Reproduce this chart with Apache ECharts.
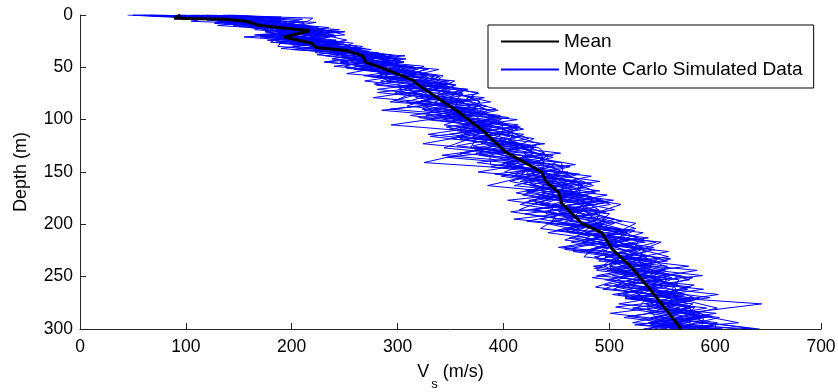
<!DOCTYPE html>
<html>
<head>
<meta charset="utf-8">
<title>Vs profile</title>
<script src="https://cdn.jsdelivr.net/npm/echarts@6/dist/echarts.min.js"></script>
<style>
  html, body { margin: 0; padding: 0; background: #fff; }
  #chart { width: 838px; height: 392px; }
</style>
</head>
<body>
<div id="chart"></div>
<script>
// Axis ticks
const vsTicks = [0, 100, 200, 300, 400, 500, 600, 700];
const depthTicks = [0, 50, 100, 150, 200, 250, 300];

// Mean shear-wave velocity profile
const meanDepth = [0, 3, 4, 6, 10, 15, 21, 27, 31, 34, 39, 45, 52, 62, 67, 78, 93, 110, 131, 138, 150, 160, 169, 180, 199, 208, 224, 241, 269, 300];
const meanVs = [95, 89, 138, 157, 170, 217, 193, 219, 223, 252, 267, 270, 289, 314, 320, 336, 358, 380, 402, 415, 436, 441, 452, 455, 474, 493, 503, 521, 544, 568];

// Simulated profiles, layer depths (three layerings)
const depthA = [0, 3, 6, 10, 14, 19, 24, 30, 36, 42, 49, 56, 63, 71, 79, 87, 96, 105, 114, 123, 132, 141, 150, 159, 168, 177, 186, 195, 204, 213, 222, 231, 240, 249, 258, 267, 276, 285, 294, 300];
const depthB = [0, 2, 5, 8, 12, 16, 21, 27, 33, 39, 45, 52, 59, 67, 75, 83, 91, 100, 109, 118, 127, 136, 145, 154, 163, 172, 181, 190, 199, 208, 217, 226, 235, 244, 253, 262, 271, 280, 289, 300];
const depthC = [0, 4, 7, 11, 16, 20, 26, 32, 38, 45, 51, 58, 66, 74, 82, 90, 98, 107, 116, 125, 134, 143, 152, 161, 170, 179, 188, 197, 206, 215, 224, 233, 242, 251, 260, 270, 279, 288, 296, 300];

// Simulated Vs values on layering A
const vsA1 = [60,150,145,200,185,240,177,247,242,303,240,317,289,366,327,379,312,389,364,439,374,430,376,471,436,504,425,490,460,537,457,536,510,588,505,563,509,601,542,597];
const vsA2 = [100,90,185,160,230,165,212,262,237,278,250,292,349,281,352,369,337,414,374,324,419,450,426,491,421,459,505,450,435,507,532,496,575,503,550,508,579,561,522,637];
const vsA3 = [50,130,195,190,175,220,182,237,222,298,290,252,334,331,277,374,372,344,419,399,364,325,461,416,491,404,470,505,480,467,522,556,485,538,515,573,534,576,622,557];
const vsA4 = [140,190,175,145,220,190,242,202,282,253,325,307,284,351,332,309,392,389,329,414,439,400,441,406,461,494,430,475,510,512,452,516,540,488,580,548,574,501,577,572];
const vsA5 = [70,120,105,215,230,250,192,187,267,308,260,327,319,301,382,339,327,399,399,379,454,375,451,446,426,474,490,410,500,477,542,486,515,558,520,603,544,566,537,607];
const vsA6 = [120,220,215,180,165,230,252,217,227,283,305,282,354,336,317,384,357,294,404,434,394,425,401,471,471,439,415,495,525,462,507,531,500,568,545,513,644,571,592,547];
const vsA7 = [115,175,130,185,245,170,227,227,272,238,315,287,294,366,347,324,397,364,409,404,359,455,456,421,446,484,475,435,490,527,487,476,555,543,495,568,539,586,572,542];
const vsA8 = [45,105,165,130,195,215,197,267,252,293,265,317,269,336,372,354,347,404,349,414,429,405,431,461,486,424,465,490,460,492,527,521,495,518,565,503,564,536,602,587];

// Simulated Vs values on layering B
const vsB1 = [65,150,140,202,165,225,230,188,265,257,306,264,320,280,362,353,335,413,349,394,424,347,448,448,410,498,451,440,505,477,534,466,535,533,501,589,525,567,514,602];
const vsB2 = [105,170,190,147,220,175,205,243,200,287,266,319,275,345,322,293,395,353,399,424,374,427,388,463,485,433,486,420,485,517,464,521,555,498,551,529,580,522,604,557];
const vsB3 = [55,100,175,167,160,190,175,223,275,232,281,329,295,340,377,318,365,328,409,369,344,437,438,398,460,458,511,485,440,482,544,511,490,583,526,504,565,602,564,537];
const vsB4 = [135,190,165,192,235,205,235,203,255,297,231,304,340,315,297,368,385,373,359,429,409,402,463,423,385,478,446,500,490,442,509,536,500,488,566,559,520,577,544,642];
const vsB5 = [90,135,130,137,200,240,155,238,230,282,296,259,325,355,312,358,285,388,414,379,429,417,403,483,440,418,476,480,455,532,504,476,540,538,521,494,585,547,589,587];
const vsB6 = [150,145,205,212,185,230,210,258,240,272,256,339,310,300,357,378,370,343,389,349,434,442,433,408,465,443,416,475,525,507,474,556,510,543,576,519,535,527,579,552];
const vsB7 = [120,125,120,182,225,195,170,248,260,247,291,294,280,355,337,308,375,398,369,359,414,447,408,453,425,478,501,450,445,517,509,481,545,508,546,574,515,592,539,577];
const vsB8 = [50,160,165,127,195,250,200,198,210,307,246,279,335,310,352,388,325,378,419,374,369,407,458,413,475,463,436,500,490,462,549,526,505,553,496,544,570,542,589,537];

// Simulated Vs values on layering C
const vsC1 = [75,170,128,205,190,242,210,265,224,291,302,283,348,281,362,343,405,346,396,421,387,388,467,433,487,430,477,512,459,508,458,538,556,514,487,565,556,598,539,592];
const vsC2 = [125,120,208,165,215,177,250,225,279,246,327,313,278,356,347,323,385,411,331,411,437,433,417,478,437,485,407,467,514,478,543,503,501,579,547,520,581,518,579,622];
const vsC3 = [50,145,168,150,250,172,240,240,294,286,252,338,333,316,297,383,355,396,416,371,417,468,392,463,422,480,472,422,509,533,493,518,486,554,552,580,506,568,559,532];
const vsC4 = [145,185,143,215,185,227,185,260,274,231,307,288,343,361,322,368,320,386,371,431,377,438,462,418,462,500,442,497,484,458,533,528,531,509,577,530,576,548,599,577];
const vsC5 = [95,210,193,190,175,207,230,190,269,301,267,328,313,376,362,293,390,361,406,356,447,403,442,458,412,465,492,487,449,518,483,558,516,559,507,555,571,593,524,572];
const vsC6 = [60,130,223,200,225,192,180,250,289,261,292,343,333,301,377,373,340,416,381,411,342,448,427,483,457,435,497,447,524,503,498,488,551,534,517,595,536,543,609,637];
const vsC7 = [110,135,178,215,225,187,245,215,284,306,262,308,348,311,367,393,350,381,356,426,427,398,472,438,437,495,452,497,454,528,523,493,536,484,562,565,546,588,549,607];
const vsC8 = [65,155,153,160,240,222,200,270,239,281,317,268,328,351,327,363,395,356,411,386,442,428,422,473,472,420,472,462,519,483,513,548,501,544,542,515,581,573,529,582];

const MC_NAME = 'Monte Carlo Simulated Data';
const MEAN_NAME = 'Mean';
const FONT = '"Liberation Sans", Arial, Helvetica, sans-serif';

const simulated = [
  [depthA, vsA1], [depthA, vsA2], [depthA, vsA3], [depthA, vsA4],
  [depthA, vsA5], [depthA, vsA6], [depthA, vsA7], [depthA, vsA8],
  [depthB, vsB1], [depthB, vsB2], [depthB, vsB3], [depthB, vsB4],
  [depthB, vsB5], [depthB, vsB6], [depthB, vsB7], [depthB, vsB8],
  [depthC, vsC1], [depthC, vsC2], [depthC, vsC3], [depthC, vsC4],
  [depthC, vsC5], [depthC, vsC6], [depthC, vsC7], [depthC, vsC8]
];

function pairs(depths, vs) {
  return vs.map((v, i) => [v, depths[i]]);
}

const series = simulated.map(([d, v]) => ({
  name: MC_NAME,
  type: 'line',
  data: pairs(d, v),
  symbol: 'none',
  silent: true,
  animation: false,
  z: 2,
  lineStyle: { color: '#0000ff', width: 1 }
}));

series.push({
  name: MEAN_NAME,
  type: 'line',
  data: pairs(meanDepth, meanVs),
  symbol: 'none',
  silent: true,
  animation: false,
  z: 5,
  lineStyle: { color: '#000000', width: 3 }
});

const axisCommon = {
  axisLine: { show: true, onZero: false, lineStyle: { color: '#262626', width: 1 } },
  axisTick: { show: true, inside: true, length: 6, lineStyle: { color: '#262626' } },
  splitLine: { show: false },
  axisLabel: { color: '#000', fontSize: 17.5, fontFamily: FONT }
};

const chart = echarts.init(document.getElementById('chart'), null, { renderer: 'canvas' });
chart.setOption({
  backgroundColor: '#ffffff',
  animation: false,
  color: ['#0000ff', '#000000'],
  grid: {
    left: 80, right: 17, top: 15, bottom: 63,
    containLabel: false,
    outerBoundsMode: 'none'
  },
  legend: {
    data: [MEAN_NAME, MC_NAME],
    orient: 'vertical',
    left: 488,
    top: 25,
    padding: [7, 11, 9, 12],
    itemWidth: 58,
    itemHeight: 14,
    itemGap: 9,
    borderColor: '#000',
    borderWidth: 1,
    borderRadius: 0,
    backgroundColor: '#fff',
    selectedMode: false,
    // line samples only, no point markers
    itemStyle: { opacity: 0 },
    textStyle: { color: '#000', fontSize: 19, fontFamily: FONT }
  },
  xAxis: Object.assign({}, axisCommon, {
    type: 'value',
    min: vsTicks[0],
    max: vsTicks[vsTicks.length - 1],
    interval: vsTicks[1] - vsTicks[0],
    axisLabel: Object.assign({}, axisCommon.axisLabel, { margin: 9 }),
    name: '{a|V}{b|s}{a| (m/s)}',
    nameLocation: 'middle',
    nameGap: 25,
    nameTextStyle: {
      fontFamily: FONT,
      rich: {
        a: { fontSize: 18, color: '#000', fontFamily: FONT },
        b: { fontSize: 13, color: '#000', fontFamily: FONT, padding: [24, 0, 0, 2] }
      }
    }
  }),
  yAxis: Object.assign({}, axisCommon, {
    type: 'value',
    inverse: true,
    min: depthTicks[0],
    max: depthTicks[depthTicks.length - 1],
    interval: depthTicks[1] - depthTicks[0],
    axisLabel: Object.assign({}, axisCommon.axisLabel, { margin: 7 }),
    name: 'Depth (m)',
    nameLocation: 'middle',
    nameGap: 50,
    nameTextStyle: { color: '#000', fontSize: 18, fontFamily: FONT }
  }),
  series: series
});
</script>
</body>
</html>
